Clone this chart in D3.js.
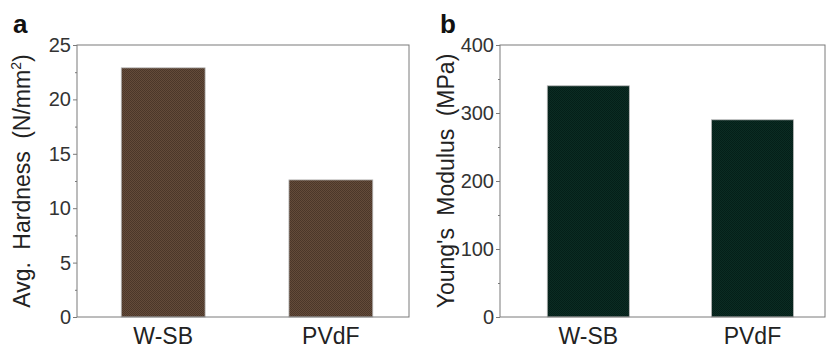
<!DOCTYPE html>
<html>
<head>
<meta charset="utf-8">
<script src="https://cdn.jsdelivr.net/npm/d3@7"></script>
<style>
  body { margin: 0; background: #fff; }
  svg text { font-family: "Liberation Sans", Arial, sans-serif; }
</style>
</head>
<body>
<svg id="chart" width="826" height="348"></svg>
<script>
// data
const categories = ["W-SB", "PVdF"];
const hardness = [22.9, 12.6];
const modulus = [340, 290];
const hardnessTicks = [0, 5, 10, 15, 20, 25];
const modulusTicks = [0, 100, 200, 300, 400];

const svg = d3.select("#chart");
const defs = svg.append("defs");

// checker texture used by the bars
function addPattern(id, c1, c2) {
  const p = defs.append("pattern")
    .attr("id", id)
    .attr("width", 2).attr("height", 2)
    .attr("patternUnits", "userSpaceOnUse");
  p.append("rect").attr("width", 2).attr("height", 2).attr("fill", c1);
  p.append("rect").attr("width", 1).attr("height", 1).attr("fill", c2);
  p.append("rect").attr("x", 1).attr("y", 1).attr("width", 1).attr("height", 1).attr("fill", c2);
}
addPattern("brown", "#644b3a", "#4b3729");
addPattern("green", "#0b2c23", "#041f18");

function panel(opts) {
  const { left, right, top, bottom, values, ticks, max, fill, align, letter, letterX, labelX, label } = opts;

  const x = d3.scaleBand()
    .domain(categories)
    .range([left, right])
    .paddingInner(0.5)
    .paddingOuter(0.24)
    .align(align);

  const y = d3.scaleLinear()
    .domain([0, max])
    .range([bottom, top]);

  const g = svg.append("g");

  // bars
  g.selectAll("rect.bar")
    .data(values)
    .join("rect")
    .attr("class", "bar")
    .attr("x", (d, i) => x(categories[i]))
    .attr("width", x.bandwidth())
    .attr("y", d => y(d))
    .attr("height", d => y(0) - y(d))
    .attr("fill", `url(#${fill})`)
    .attr("stroke", "#b8b8b8")
    .attr("stroke-width", 0.8);

  // frame
  g.append("rect")
    .attr("x", left).attr("y", top)
    .attr("width", right - left).attr("height", bottom - top)
    .attr("fill", "none")
    .attr("stroke", "#7a7a7a")
    .attr("stroke-width", 1);

  // minor ticks
  const minor = d3.range(1, ticks.length).map(i => (ticks[i] + ticks[i - 1]) / 2);
  g.append("g")
    .attr("transform", `translate(${left},0)`)
    .call(d3.axisLeft(y).tickValues(minor).tickSize(2).tickFormat(""))
    .call(a => a.select(".domain").remove())
    .call(a => a.selectAll("line").attr("stroke", "#7a7a7a"));

  // major ticks
  g.append("g")
    .attr("transform", `translate(${left},0)`)
    .call(d3.axisLeft(y).tickValues(ticks).tickSize(4).tickPadding(2))
    .call(a => a.select(".domain").remove())
    .call(a => a.selectAll("line").attr("stroke", "#7a7a7a"))
    .call(a => a.selectAll("text")
      .attr("font-size", 20)
      .attr("fill", "#333"));

  // category labels
  g.append("g")
    .selectAll("text")
    .data(categories)
    .join("text")
    .attr("x", d => x(d) + x.bandwidth() / 2)
    .attr("y", 344)
    .attr("text-anchor", "middle")
    .attr("font-size", 23)
    .attr("fill", "#222")
    .text(d => d);

  // y label
  const t = g.append("text")
    .attr("transform", `translate(${labelX},${(top + bottom) / 2}) rotate(-90)`)
    .attr("text-anchor", "middle")
    .attr("font-size", 23)
    .attr("word-spacing", 6)
    .attr("fill", "#222");
  label(t);

  // panel letter
  g.append("text")
    .attr("x", letterX)
    .attr("y", 33)
    .attr("font-size", 26)
    .attr("font-weight", "bold")
    .attr("fill", "#111")
    .text(letter);
}

panel({
  left: 77, right: 409, top: 45, bottom: 317,
  values: hardness, ticks: hardnessTicks, max: 25,
  fill: "brown", align: 0.55, letter: "a", letterX: 13, labelX: 30,
  label: t => {
    t.append("tspan").text("Avg. Hardness (N/mm");
    t.append("tspan").attr("font-size", 14).attr("dy", -9).text("2");
    t.append("tspan").attr("dy", 9).text(")");
  }
});

panel({
  left: 500, right: 825, top: 45, bottom: 317,
  values: modulus, ticks: modulusTicks, max: 400,
  fill: "green", align: 0.6, letter: "b", letterX: 440, labelX: 454,
  label: t => t.text("Young's Modulus (MPa)")
});
</script>
</body>
</html>
